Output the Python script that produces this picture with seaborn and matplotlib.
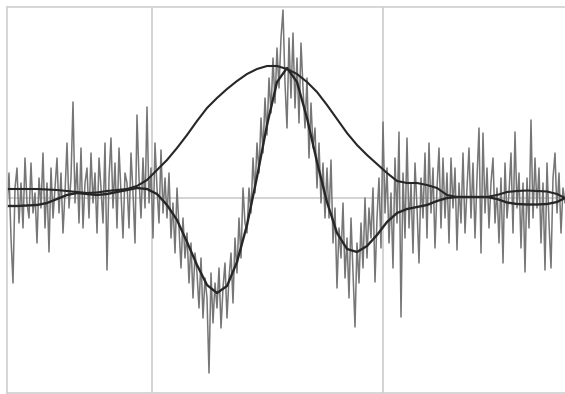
import numpy as np
import pandas as pd
import matplotlib
matplotlib.use("Agg")
import matplotlib.pyplot as plt
import seaborn as sns

# Noisy recorded signal (one value per sample)
signal = [
    -10, 25, -40, -85, 10, 30, -25, 15, -30, 40, -5, -20, 35, -15, 5, -45, 20, -10, 45, -30,
    15, -54, 30, -20, 10, 40, -15, 25, -35, 5, 55, -10, 20, 96, -5, 35, -25, 50, -30, 15,
    30, -20, 45, -5, 25, -35, 40, 10, -25, 55, -72, 20, 60, -10, 35, -30, 50, 5, -40, 25,
    15, -30, 45, 5, -45, 83, 20, -20, 40, -10, 91, -5, 30, -40, 55, 10, -25, 48, -15, 20,
    -20, 25, -40, -5, -55, 10, -30, -70, -20, -60, -35, -85, -45, -100, -55, -75, -110, -60, -120, -80,
    -100, -175, -75, -125, -85, -110, -70, -130, -90, -65, -120, -80, -55, -105, -40, -75, -20, -60, 10, -25,
    -35, 10, -15, 40, 5, 55, 25, 80, 45, 100, 63, 120, 85, 140, 95, 150, 110, 160, 188, 115,
    70, 160, 100, 165, 90, 140, 75, 155, 110, 70, 120, 40, 95, 50, 70, 10, 55, -5, 35, -20,
    30, -20, 38, -45, -10, -90, -30, -60, -5, -80, -40, -100, -20, -75, -129, -45, -85, -25, -70, 0,
    -60, -10, -40, 10, -84, -20, 20, -50, 76, -15, 30, -45, 5, -70, 40, -25, 66, -119, 25, -40,
    60, -30, 15, -55, 35, -10, -65, 20, -20, 45, -40, 55, -15, 30, -50, 10, 50, -30, 40, -20,
    25, -45, 40, -10, 30, -52, 15, -25, 45, -35, 10, 50, -20, 35, -40, 20, 70, -55, 65, -15,
    30, -30, 15, 40, -25, 10, -45, 20, -65, 35, -20, 5, 45, -35, 66, -10, 25, -50, 15, -74,
    20, -30, 78, -20, 40, -10, 30, -45, 15, -72, 35, -25, -70, 20, 45, -15, 25, -35, 10, -5,
]
sample = np.arange(len(signal))

# Smooth curves read at knot samples
knots = list(range(0, 280, 5)) + [279]
fitted_wave = [
    -8, -8, -7.5, -7, -5, -1, 3, 5, 4, 3, 4, 6, 8, 10, 9, 4, -7, -22, -44, -67,
    -87, -95, -88, -64, -27, 21, 73, 116, 130, 116, 80, 36, -4, -35, -51, -54, -48, -37, -24, -15,
    -11, -9, -7, -3, 0, 1, 1, 1, 1, -1, -4.5, -6, -6.5, -6.5, -6, -4, 0,
]
envelope = [
    9, 9, 9, 9, 8.5, 8, 7, 6, 5, 5.5, 7, 8, 9, 12, 18, 28, 38, 50, 63, 77,
    90, 100, 109, 117, 124, 129, 132, 132, 129, 124, 116, 106, 93, 79, 65, 53, 43, 34, 25, 17,
    15, 15, 13, 10, 3, 1, 1, 1, 1, 3, 6, 7, 7.5, 7, 6.5, 4, 0,
]

grid_x = [72.5, 188]

sns.set_style("white")
fig = plt.figure(figsize=(5.65, 3.94), dpi=100)
ax = fig.add_axes([7 / 565, 1 / 394, 558 / 565, 386 / 394])

sns.lineplot(x=sample, y=signal, ax=ax, color="#767676", linewidth=1.1)
sns.lineplot(x=knots, y=envelope, ax=ax, color="#262626", linewidth=1.5)
sns.lineplot(x=knots, y=fitted_wave, ax=ax, color="#262626", linewidth=1.7)

ax.set_xlim(0, 279)
ax.set_ylim(-195, 191)
ax.set_xticks(grid_x)
ax.set_yticks([0])
ax.set_xticklabels([])
ax.set_yticklabels([])
ax.tick_params(length=0)
ax.grid(True, color="#cccccc", linewidth=1.2)
ax.set_axisbelow(True)
ax.set_xlabel("")
ax.set_ylabel("")
for side, sp in ax.spines.items():
    sp.set_color("#cfcfcf")
    sp.set_linewidth(1.2)
ax.spines["right"].set_visible(False)

fig.savefig("out.png", dpi=100)
